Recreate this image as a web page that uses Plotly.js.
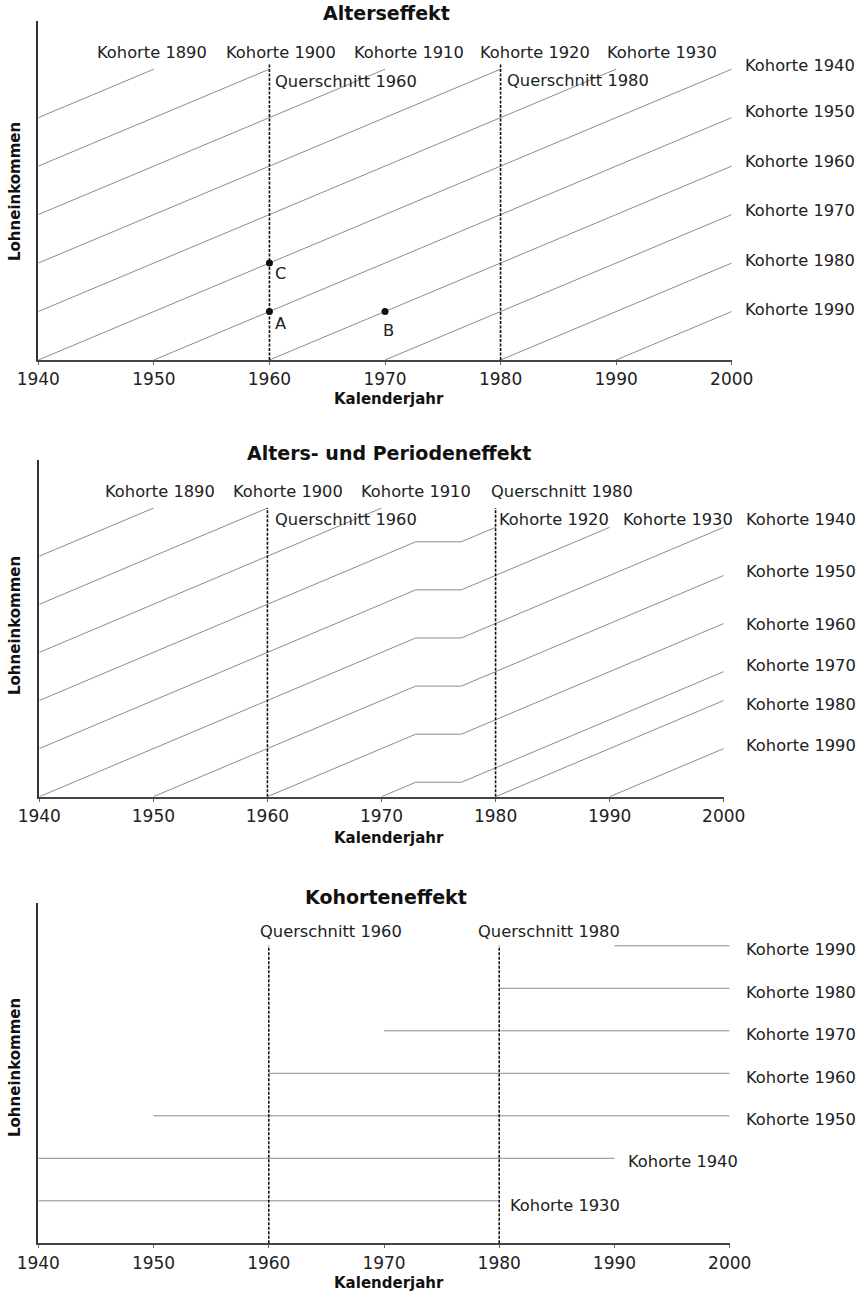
<!DOCTYPE html>
<html>
<head>
<meta charset="utf-8">
<script src="https://cdn.plot.ly/plotly-3.0.1.min.js"></script>
<style>html,body{margin:0;padding:0;background:#fff;}</style>
</head>
<body>
<div id="chart" style="width:866px;height:1294px;"></div>
<script>
// ---------- DATA ----------
const tickYears = [1940, 1950, 1960, 1970, 1980, 1990, 2000];
const tickLabels = ['1940', '1950', '1960', '1970', '1980', '1990', '2000'];

const panelTitles = ['Alterseffekt', 'Alters- und Periodeneffekt', 'Kohorteneffekt'];
const xTitle = 'Kalenderjahr';
const yTitle = 'Lohneinkommen';

// Panel 1: Alterseffekt
const p1Cohorts = ['1890','1900','1910','1920','1930','1940','1950','1960','1970','1980','1990'];
const p1X = [[1940,1950],[1940,1960],[1940,1970],[1940,1980],[1940,1990],[1940,2000],
             [1950,2000],[1960,2000],[1970,2000],[1980,2000],[1990,2000]];
const p1Y = [[50,60],[40,60],[30,60],[20,60],[10,60],[0,60],
             [0,50],[0,40],[0,30],[0,20],[0,10]];
const p1CrossYears = [1960, 1980];
const p1CrossTop = 61;
const pointNames = ['A', 'B', 'C'];
const pointX = [1960, 1970, 1960];
const pointY = [10, 10, 20];

// Panel 2: Alters- und Periodeneffekt
const p2Cohorts = ['1890','1900','1910','1920','1930','1940','1950','1960','1970','1980','1990'];
const p2X = [[1940,1950],[1940,1960],[1940,1970],
             [1940,1973,1977,1980],[1940,1973,1977,1990],[1940,1973,1977,2000],
             [1950,1973,1977,2000],[1960,1973,1977,2000],[1970,1973,1977,2000],
             [1980,2000],[1990,2000]];
const p2Y = [[50,60],[40,60],[30,60],
             [20,53,53,56],[10,43,43,56],[0,33,33,56],
             [0,23,23,46],[0,13,13,36],[0,3,3,26],
             [0,20],[0,10]];
const p2CrossYears = [1960, 1980];
const p2CrossTop = 60;

// Panel 3: Kohorteneffekt
const p3Cohorts = ['1930','1940','1950','1960','1970','1980','1990'];
const p3X = [[1940,1980],[1940,1990],[1950,2000],[1960,2000],[1970,2000],[1980,2000],[1990,2000]];
const p3Y = [[10,10],[20,20],[30,30],[40,40],[50,50],[60,60],[70,70]];
const p3CrossYears = [1960, 1980];
const p3CrossTop = 70;

// ---------- LAYOUT HELPERS ----------
const W = 866, H = 1294, ML = 38, MR = 134;
const PW = W - ML - MR;
const PX = x => (x - ML) / PW;
const PY = y => 1 - y / H;

const FONT = 'DejaVu Sans';
const TXT = '#222';
const LINE_GREY = '#8c8c8c';
const LBL_SIZE = 16.3;

const traces = [];
function addLines(xs, ys, xa, ya) {
  xs.forEach((xArr, i) => {
    traces.push({x: xArr, y: ys[i], xaxis: xa, yaxis: ya, type: 'scatter', mode: 'lines',
      line: {color: LINE_GREY, width: 1}, hoverinfo: 'skip', showlegend: false});
  });
}
function addCross(years, top, xa, ya) {
  years.forEach(yr => {
    traces.push({x: [yr, yr], y: [0, top], xaxis: xa, yaxis: ya, type: 'scatter', mode: 'lines',
      line: {color: '#111', width: 1.6, dash: '3px,1.5px'}, hoverinfo: 'skip', showlegend: false});
  });
}
addLines(p1X, p1Y, 'x', 'y');
addCross(p1CrossYears, p1CrossTop, 'x', 'y');
traces.push({x: pointX, y: pointY, xaxis: 'x', yaxis: 'y', type: 'scatter', mode: 'markers',
  marker: {color: '#111', size: 7}, hoverinfo: 'skip', showlegend: false});
addLines(p2X, p2Y, 'x2', 'y2');
addCross(p2CrossYears, p2CrossTop, 'x2', 'y2');
addLines(p3X, p3Y, 'x3', 'y3');
addCross(p3CrossYears, p3CrossTop, 'x3', 'y3');

function xAxis(domain, anchor) {
  return {domain: domain, anchor: anchor, range: [1940, 2000], tickvals: tickYears, ticktext: tickLabels,
    showgrid: false, zeroline: false, showline: true, linecolor: '#444', linewidth: 2,
    ticks: 'outside', ticklen: 3, tickwidth: 1, tickcolor: '#666',
    tickfont: {family: FONT, size: 17, color: TXT}, fixedrange: true};
}
function yAxis(domain, anchor, top) {
  return {domain: domain, anchor: anchor, range: [0, top], showgrid: false, zeroline: false,
    showline: true, linecolor: '#333', linewidth: 2, showticklabels: false, ticks: '', fixedrange: true};
}

const ann = [];
const lbl = (text, x, y, xref, yref, xanchor, extra) => ann.push(Object.assign({
  text: text, x: x, y: y, xref: xref, yref: yref, xanchor: xanchor || 'center', yanchor: 'middle',
  showarrow: false, font: {family: FONT, size: LBL_SIZE, color: TXT}}, extra || {}));

// Titles and axis titles (paper coords)
const titleY = [13, 453, 897];
const titleX = [386, 389, 386];
const xTitleY = [399, 838, 1283];
const yTitleY = [192, 626, 1068];
panelTitles.forEach((t, i) => {
  lbl('<b>' + t + '</b>', PX(titleX[i]), PY(titleY[i]), 'paper', 'paper', 'center', {font: {family: FONT, size: 19, color: '#111'}});
  lbl('<b>' + xTitle + '</b>', PX(389), PY(xTitleY[i]), 'paper', 'paper', 'center', {font: {family: FONT, size: 15, color: '#111'}});
  lbl('<b>' + yTitle + '</b>', PX(15), PY(yTitleY[i]), 'paper', 'paper', 'center', {textangle: -90, font: {family: FONT, size: 15, color: '#111'}});
});

// Panel 1 labels
const p1TopX = [1949.8, 1961.0, 1972.1, 1983.0, 1994.0];
p1Cohorts.slice(0, 5).forEach((c, i) => lbl('Kohorte ' + c, p1TopX[i], 63.5, 'x', 'y'));
const p1RightY = [60.8, 51.2, 41.0, 30.8, 20.6, 10.5];
p1Cohorts.slice(5).forEach((c, i) => lbl('Kohorte ' + c, PX(743), p1RightY[i], 'paper', 'y', 'left'));
lbl('Querschnitt 1960', 1960.35, 57.5, 'x', 'y', 'left');
lbl('Querschnitt 1980', 1980.35, 57.7, 'x', 'y', 'left');
const pointLblX = [1961.0, 1970.3, 1961.0];
const pointLblY = [7.6, 6.0, 17.9];
pointNames.forEach((n, i) => lbl(n, pointLblX[i], pointLblY[i], 'x', 'y'));

// Panel 2 labels
const p2TopX = [1950.55, 1961.8, 1973.05];
p2Cohorts.slice(0, 3).forEach((c, i) => lbl('Kohorte ' + c, p2TopX[i], 63.4, 'x2', 'y2'));
lbl('Querschnitt 1980', 1985.8, 63.4, 'x2', 'y2');
lbl('Querschnitt 1960', 1960.45, 57.7, 'x2', 'y2', 'left');
lbl('Kohorte 1920', 1985.1, 57.7, 'x2', 'y2');
lbl('Kohorte 1930', 1996.0, 57.7, 'x2', 'y2');
const p2RightY = [57.7, 46.8, 35.8, 27.2, 19.2, 10.6];
p2Cohorts.slice(5).forEach((c, i) => lbl('Kohorte ' + c, PX(743.7), p2RightY[i], 'paper', 'y2', 'left'));

// Panel 3 labels
lbl('Querschnitt 1960', 1965.4, 73.3, 'x3', 'y3');
lbl('Querschnitt 1980', 1984.3, 73.3, 'x3', 'y3');
const p3RightY = [29.2, 39.1, 49.2, 59.0, 69.2];
p3Cohorts.slice(2).forEach((c, i) => lbl('Kohorte ' + c, PX(744), p3RightY[i], 'paper', 'y3', 'left'));
lbl('Kohorte 1940', 1991.0, 19.2, 'x3', 'y3', 'left');
lbl('Kohorte 1930', 1980.8, 8.8, 'x3', 'y3', 'left');

const layout = {
  width: W, height: H, margin: {l: ML, r: MR, t: 0, b: 0},
  paper_bgcolor: '#fff', plot_bgcolor: '#fff', showlegend: false,
  xaxis: xAxis([PX(38.3), PX(731.7)], 'y'),
  yaxis: yAxis([PY(360), PY(20.7)], 'x', 70),
  xaxis2: xAxis([PX(39.3), PX(723.7)], 'y2'),
  yaxis2: yAxis([PY(796.7), PY(460)], 'x2', 70),
  xaxis3: xAxis([PX(38.3), PX(729.7)], 'y3'),
  yaxis3: yAxis([PY(1243.3), PY(903.3)], 'x3', 80),
  annotations: ann
};

Plotly.newPlot('chart', traces, layout, {staticPlot: true, displayModeBar: false});
</script>
</body>
</html>
